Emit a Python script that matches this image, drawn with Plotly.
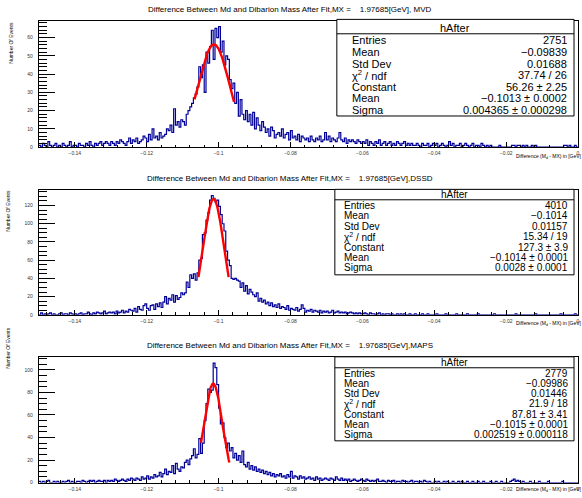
import plotly.graph_objects as go

W, H = 582, 498

# ---------------- data ----------------
bin_lo, bin_hi, n_bins = -0.15, 0.0, 300

mvd_counts = [
    1,0,2,1,0,3,1,0,1,2,0,1,0,2,1,0,1,3,0,1,
    1,0,2,1,1,0,2,1,3,1,0,2,1,2,3,1,2,3,2,1,
    3,2,1,3,2,4,3,2,1,3,5,2,4,3,5,2,3,4,6,5,
    3,7,4,10,5,6,4,8,5,6,7,10,9,12,8,21,12,14,11,15,
    14,12,18,20,22,24,27,29,33,44,38,45,30,52,46,55,64,48,65,60,
    66,52,58,45,50,48,37,32,35,24,30,17,26,18,15,20,14,18,12,19,
    10,16,12,9,14,11,8,10,6,11,9,5,7,8,6,10,5,7,8,4,
    9,5,6,4,7,3,6,5,4,5,3,6,4,3,5,4,6,3,4,8,
    4,6,3,5,4,3,5,8,4,3,5,2,4,3,4,3,2,4,3,2,
    3,2,4,1,3,2,1,3,2,4,1,2,3,1,2,3,1,2,1,3,
    2,1,2,3,1,2,1,2,1,1,2,1,0,2,1,1,2,0,1,2,
    1,2,0,1,2,1,0,1,3,1,2,0,1,1,2,0,1,2,1,0,
    1,2,0,1,1,0,2,1,0,1,0,1,0,0,0,0,1,0,0,0,
    0,0,0,1,1,0,1,1,0,1,0,1,0,0,1,0,1,0,0,0,
    0,0,0,0,0,0,0,0,0,0,0,0,1,1,0,1,0,0,1,0,
]

dssd_counts = [
    0,2,0,1,0,1,2,0,1,0,0,1,2,0,1,1,0,2,1,0,
    1,0,1,2,0,1,1,3,1,0,2,1,3,2,1,2,4,1,2,3,
    2,3,1,4,2,3,5,2,4,3,6,5,4,7,3,9,6,5,10,12,
    7,5,10,11,6,12,9,13,8,14,20,12,18,16,22,14,21,17,19,24,
    22,24,36,30,44,40,45,38,46,60,62,88,90,104,112,126,131,128,124,126,
    119,110,100,92,70,60,54,40,39,40,38,37,30,35,26,32,23,28,25,22,
    20,24,15,18,14,16,12,14,10,13,9,11,8,12,7,9,8,6,10,5,
    7,6,5,8,4,6,11,7,3,5,4,6,3,5,4,3,5,2,4,3,
    4,2,3,5,2,3,4,2,3,2,3,1,2,3,2,1,2,1,2,1,
    1,2,1,0,2,1,1,0,1,2,0,1,0,1,1,0,1,0,0,1,
    0,1,0,1,0,0,1,0,0,1,0,0,0,1,0,0,1,0,0,0,
    0,1,0,0,0,0,1,0,0,0,0,0,1,0,0,0,0,0,1,0,
    0,0,0,0,1,0,0,0,0,0,0,0,0,1,0,0,0,0,0,0,
    0,0,0,0,0,1,0,0,0,0,0,0,0,0,0,0,1,0,0,0,
    0,0,0,0,0,0,0,0,0,0,1,0,0,0,0,0,0,0,1,0,
]

maps_counts = [
    1,0,1,0,1,2,0,0,1,0,1,0,0,1,0,1,2,0,1,0,
    0,1,1,0,2,1,0,1,2,1,2,0,1,2,1,1,2,0,2,1,
    2,1,3,2,1,2,3,2,1,3,2,4,3,2,4,3,2,5,3,4,
    6,3,5,4,7,5,6,9,5,8,12,7,10,9,15,8,17,12,10,14,
    13,18,20,16,21,24,30,22,25,39,26,35,55,70,83,80,82,106,102,87,
    66,52,53,40,31,35,28,31,22,26,20,24,18,28,16,14,18,12,15,11,
    14,10,12,9,11,8,10,7,9,6,8,5,7,6,8,5,6,4,7,5,
    10,4,6,5,3,6,4,5,3,4,5,3,4,2,5,3,4,2,3,4,
    3,2,4,3,2,5,3,2,4,2,3,2,3,1,2,3,2,1,2,3,
    2,1,3,2,1,2,1,2,3,1,1,2,1,0,2,1,1,2,0,1,
    1,0,2,1,1,0,1,2,0,1,1,0,1,0,2,1,0,1,0,0,
    1,0,1,0,0,1,0,1,0,0,1,0,0,1,0,1,0,0,1,0,
    0,1,0,0,1,0,0,1,0,0,0,1,0,0,1,0,0,1,0,0,
    0,0,1,2,3,1,2,1,0,1,0,0,0,1,0,0,0,0,1,0,
    0,0,0,1,0,0,0,0,0,0,0,1,0,0,0,0,0,0,0,0,
]

# fit parameters (from stats boxes) and fit ranges
fit_const = [56.26, 127.3, 87.81]
fit_mean = [-0.1013, -0.1014, -0.1015]
fit_sigma = [0.004365, 0.0028, 0.002519]
fit_range = [(-0.1067, -0.0957), (-0.1056, -0.0972), (-0.1049, -0.0970)]

detectors = ["MVD", "DSSD", "MAPS"]
titles = [
    "Difference Between Md and Dibarion Mass After Fit,MX =\u00a0\u00a0\u00a0\u00a01.97685[GeV], MVD",
    "Difference Between Md and Dibarion Mass After Fit,MX =\u00a0\u00a0\u00a0\u00a01.97685[GeV],DSSD",
    "Difference Between Md and Dibarion Mass After Fit,MX =\u00a0\u00a0\u00a0\u00a01.97685[GeV],MAPS",
]
stat_labels = ["Entries", "Mean", "Std Dev", "\u03c7<sup>2</sup> / ndf", "Constant", "Mean", "Sigma"]
stat_values = [
    ["2751", "\u22120.09839", "0.01688", "37.74 / 26", "56.26 \u00b1 2.25",
     "\u22120.1013 \u00b1 0.0002", "0.004365 \u00b1 0.000298"],
    ["4010", "\u22120.1014", "0.01157", "15.34 / 19", "127.3 \u00b1 3.9",
     "\u22120.1014 \u00b1 0.0001", "0.0028 \u00b1 0.0001"],
    ["2779", "\u22120.09986", "0.01446", "21.9 / 18", "87.81 \u00b1 3.41",
     "\u22120.1015 \u00b1 0.0001", "0.002519 \u00b1 0.000118"],
]
x_tick_vals = [-0.14, -0.12, -0.1, -0.08, -0.06, -0.04, -0.02, 0.0]
x_tick_text = ["\u22120.14", "\u22120.12", "\u22120.1", "\u22120.08", "\u22120.06", "\u22120.04", "\u22120.02", "0"]

# ---------------- layout geometry (pixels) ----------------
FONT = "Liberation Sans, Arial, Helvetica, sans-serif"
frame_x = (39, 580)
frames_y = [(20.7, 148.0), (190.7, 316.7), (359.3, 485.5)]
y_major = [10, 20, 20]
y_minor = [2, 5, 5]
title_y = [10, 179.5, 347.5]
ytitle_pos = [(11.5, 42.5), (8.5, 211.5), (8.5, 349.5)]
xtitle_y = [157.5, 325, 492.5]
boxes = [
    dict(x0=338, x1=576, y0=19.5, y1=116.7, hdr=28.0, sep=34.0, row0=40.5, step=11.7, fs=11, tx=351, vx=571),
    dict(x0=336, x1=576, y0=190.5, y1=276.5, hdr=195.5, sep=201.0, row0=206.5, step=10.5, fs=10, tx=343, vx=572),
    dict(x0=336, x1=576, y0=359.0, y1=443.5, hdr=364.5, sep=370.0, row0=375.5, step=10.3, fs=10, tx=343, vx=572),
]


def px(x):
    return x / W


def py(y):
    return 1 - y / H


all_counts = [mvd_counts, dssd_counts, maps_counts]
bw = (bin_hi - bin_lo) / n_bins
edges = [bin_lo + i * bw for i in range(n_bins + 1)]

fig = go.Figure()
shapes = []
annotations = []

for k in range(3):
    xa = "x" if k == 0 else f"x{k+1}"
    ya = "y" if k == 0 else f"y{k+1}"
    counts = all_counts[k]
    fig.add_trace(go.Scatter(
        x=edges, y=list(counts) + [counts[-1]], mode="lines",
        line=dict(shape="hv", color="#000099", width=1.2),
        xaxis=xa, yaxis=ya, showlegend=False, hoverinfo="skip"))
    # gaussian fit function with the fitted parameters
    a, b = fit_range[k]
    n = 120
    fx = [a + (b - a) * i / (n - 1) for i in range(n)]
    import math
    fy = [fit_const[k] * math.exp(-0.5 * ((v - fit_mean[k]) / fit_sigma[k]) ** 2) for v in fx]
    fig.add_trace(go.Scatter(
        x=fx, y=fy, mode="lines", line=dict(color="#ff0000", width=2.4),
        xaxis=xa, yaxis=ya, showlegend=False, hoverinfo="skip"))

    ftop, fbot = frames_y[k]
    ymax = 1.05 * max(counts)
    xkey = "xaxis" if k == 0 else f"xaxis{k+1}"
    ykey = "yaxis" if k == 0 else f"yaxis{k+1}"
    fig.update_layout(**{
        xkey: dict(
            domain=[px(frame_x[0]), px(frame_x[1])], anchor=ya,
            range=[bin_lo, bin_hi], showgrid=False, zeroline=False,
            showline=True, linecolor="black", linewidth=1, mirror=True,
            tickmode="array", tickvals=x_tick_vals, ticktext=x_tick_text,
            ticks="inside", ticklen=5, tickcolor="black", tickwidth=1,
            minor=dict(tickmode="linear", tick0=-0.14, dtick=0.004, ticks="inside",
                       ticklen=2.5, tickcolor="black", showgrid=False),
            tickfont=dict(family=FONT, size=5, color="#333333"),
            ticklabelstandoff=1,
        ),
        ykey: dict(
            domain=[py(fbot), py(ftop)], anchor=xa,
            range=[0, ymax], showgrid=False, zeroline=False,
            showline=True, linecolor="black", linewidth=1, mirror=True,
            tickmode="linear", tick0=0, dtick=y_major[k],
            ticks="inside", ticklen=16, tickcolor="black", tickwidth=1,
            minor=dict(tickmode="linear", tick0=0, dtick=y_minor[k], ticks="inside",
                       ticklen=8, tickcolor="black", showgrid=False),
            tickfont=dict(family=FONT, size=5, color="#333333"),
            ticklabelstandoff=4,
        ),
    })

    # title
    annotations.append(dict(text=titles[k], x=0.5, y=py(title_y[k]), xref="paper", yref="paper",
                            xanchor="center", yanchor="middle", showarrow=False,
                            font=dict(family=FONT, size=8, color="black")))
    # y title
    annotations.append(dict(text="Number Of Events", x=px(ytitle_pos[k][0]), y=py(ytitle_pos[k][1]),
                            xref="paper", yref="paper", xanchor="center", yanchor="middle",
                            textangle=-90, showarrow=False,
                            font=dict(family=FONT, size=5, color="black")))
    # x title
    annotations.append(dict(text="Difference (M<sub>d</sub> - MX) in [GeV]", x=px(586), y=py(xtitle_y[k]),
                            xref="paper", yref="paper", xanchor="right", yanchor="middle",
                            showarrow=False, font=dict(family=FONT, size=5, color="black")))

    # stats box
    bx = boxes[k]
    shapes.append(dict(type="rect", xref="paper", yref="paper",
                       x0=px(bx["x0"]), x1=px(bx["x1"]), y0=py(bx["y1"]), y1=py(bx["y0"]),
                       line=dict(color="black", width=1), fillcolor="white", layer="above"))
    shapes.append(dict(type="line", xref="paper", yref="paper",
                       x0=px(bx["x0"]), x1=px(bx["x1"]), y0=py(bx["sep"]), y1=py(bx["sep"]),
                       line=dict(color="black", width=1), layer="above"))
    annotations.append(dict(text="hAfter", x=px((bx["x0"] + bx["x1"]) / 2), y=py(bx["hdr"]),
                            xref="paper", yref="paper", xanchor="center", yanchor="middle",
                            showarrow=False, font=dict(family=FONT, size=bx["fs"], color="black")))
    for r in range(7):
        yy = py(bx["row0"] + r * bx["step"])
        annotations.append(dict(text=stat_labels[r], x=px(bx["tx"]), y=yy, xref="paper", yref="paper",
                                xanchor="left", yanchor="middle", showarrow=False,
                                font=dict(family=FONT, size=bx["fs"], color="black")))
        annotations.append(dict(text=stat_values[k][r], x=px(bx["vx"]), y=yy, xref="paper", yref="paper",
                                xanchor="right", yanchor="middle", showarrow=False,
                                font=dict(family=FONT, size=bx["fs"], color="black")))

fig.update_layout(
    width=W, height=H, margin=dict(l=0, r=0, t=0, b=0),
    paper_bgcolor="white", plot_bgcolor="white",
    shapes=shapes, annotations=annotations, showlegend=False,
)

fig.write_html("out.html")
